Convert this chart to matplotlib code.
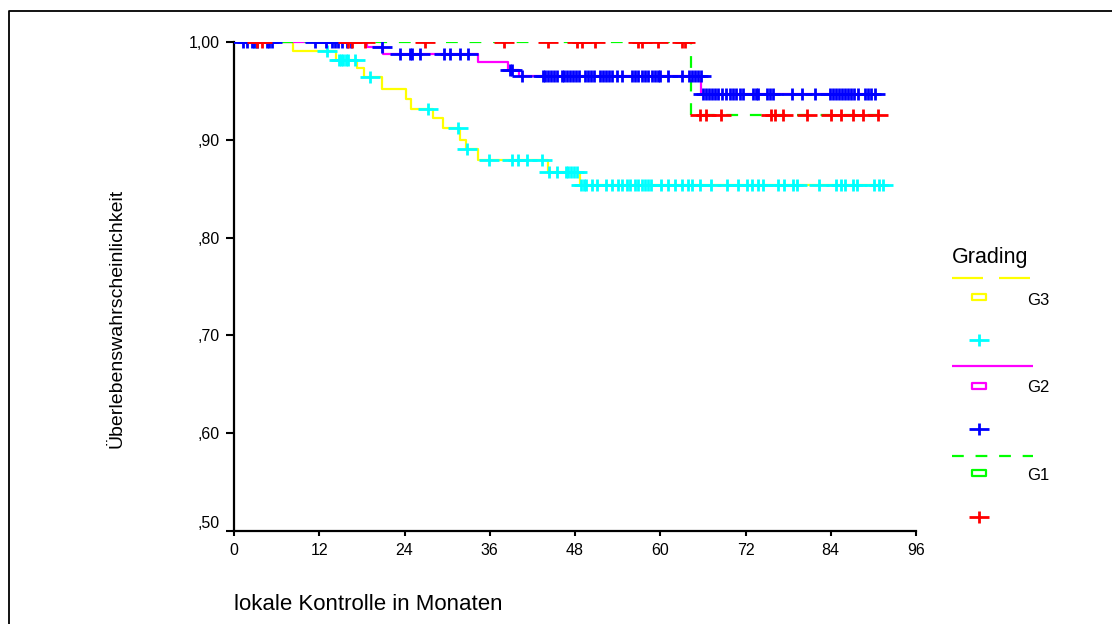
import numpy as np
import matplotlib
matplotlib.use("Agg")
import matplotlib.pyplot as plt
from matplotlib.path import Path
from matplotlib.lines import Line2D
from matplotlib.transforms import ScaledTranslation

plt.rcParams['font.family'] = ['Liberation Sans', 'DejaVu Sans']

W, H, DPI = 1112, 624, 100

# ---- Kaplan-Meier data (months, survival after each event) ----
g3_event_t = [8.3, 14.3, 17.3, 18.3, 20.8, 24.2, 24.9, 28.0, 29.4, 31.8, 32.7, 34.3, 44.2, 48.7]
g3_surv = [0.991, 0.982, 0.973, 0.964, 0.952, 0.942, 0.932, 0.922, 0.912, 0.900, 0.891, 0.879, 0.867, 0.854]
g3_censor_t = [3.0, 13.1, 14.8, 15.1, 15.4, 15.7, 16.0, 17.0, 19.1, 27.3, 31.5, 32.8,
               35.9, 39.1, 40.0, 41.2, 43.3, 44.3, 45.4, 46.7, 47.0, 47.4, 47.8, 48.3,
               48.9, 49.2, 49.5, 50.4, 51.1, 52.3, 53.2, 54.0, 54.6, 55.3, 55.7, 56.4,
               56.9, 57.4, 57.9, 58.3, 58.7, 60.1, 61.1, 62.1, 63.0, 63.9, 64.4, 65.6,
               67.2, 69.4, 70.9, 72.2, 72.9, 73.8, 74.5, 76.6, 77.4, 78.7, 79.2, 82.4,
               84.7, 85.5, 86.0, 87.2, 87.7, 90.1, 90.8, 91.4]

g2_event_t = [18.7, 21.0, 34.4, 38.6, 40.1, 65.8]
g2_surv = [0.995, 0.988, 0.980, 0.971, 0.965, 0.947]
g2_censor_t = [1.3, 1.8, 2.5, 2.8, 3.2, 4.6, 4.9, 5.3, 11.4, 13.0, 13.8, 14.2, 14.6,
               15.2, 15.9, 16.5, 20.8, 23.4, 24.8, 25.0, 26.2, 29.5, 30.4, 31.8, 33.0,
               38.9, 39.1, 40.5, 43.5, 43.8, 44.2, 44.6, 45.0, 45.4, 46.1, 46.5, 46.9,
               47.3, 47.7, 48.1, 48.5, 49.4, 49.8, 50.2, 50.7, 51.5, 51.9, 52.4, 52.8,
               53.2, 53.9, 54.6, 56.0, 56.4, 56.9, 57.4, 57.9, 58.3, 58.8, 59.3, 59.7,
               60.0, 61.1, 63.0, 64.0, 64.4, 64.9, 65.3, 65.7,
               66.0, 66.4, 66.8, 67.3, 67.7, 68.1, 68.7, 69.2, 69.8, 70.2, 70.7, 71.2,
               71.7, 73.1, 73.5, 73.8, 75.0, 75.4, 75.9, 78.5, 79.9, 81.8, 83.9, 84.3,
               84.7, 85.1, 85.6, 86.0, 86.4, 86.9, 87.3, 87.8, 88.8, 89.3, 89.7, 90.2]

g1_event_t = [64.3]
g1_surv = [0.925]
g1_censor_t = [3.2, 3.9, 16.1, 16.6, 18.4, 26.9, 38.0, 44.2, 48.3, 49.0, 50.8, 56.9,
               57.4, 59.7, 63.0, 63.5, 65.6, 66.5, 68.6, 75.6, 76.1, 77.3, 80.6, 84.1,
               85.5, 87.2, 88.6, 90.7]

x_ticks = [0, 12, 24, 36, 48, 60, 72, 84, 96]
y_ticks = [0.5, 0.6, 0.7, 0.8, 0.9, 1.0]
y_tick_labels = [',50', ',60', ',70', ',80', ',90', '1,00']
group_names = ['G3', 'G2', 'G1']

YELLOW, CYAN = '#FFFF00', '#00FFFF'
MAGENTA, BLUE = '#FF00FF', '#0000FF'
GREEN, RED = '#00FF00', '#FF0000'

# censor mark: wide, short cross
CROSS = Path([(-10, 0), (10, 0), (0, -6), (0, 6)],
             [Path.MOVETO, Path.LINETO, Path.MOVETO, Path.LINETO])
BOX = Path([(-1, -0.5), (1, -0.5), (1, 0.5), (-1, 0.5), (-1, -0.5)],
           [Path.MOVETO, Path.LINETO, Path.LINETO, Path.LINETO, Path.CLOSEPOLY])


def km_steps(ev_t, ev_s, t_end):
    t = np.concatenate([[0.0], ev_t, [t_end]])
    s = np.concatenate([[1.0], ev_s, [ev_s[-1]]])
    return t, s


def surv_at(times, ev_t, ev_s):
    idx = np.searchsorted(ev_t, times, side='right')
    s = np.concatenate([[1.0], ev_s])
    return s[idx]


fig = plt.figure(figsize=(W / DPI, H / DPI), dpi=DPI)
ax = fig.add_axes([234 / W, 1 - 531 / H, 682 / W, 489 / H])

lw = 1.6
dash_green = (0, (5.3, 5.3))
MEW = 2.0

groups = [
    (g3_event_t, g3_surv, g3_censor_t, YELLOW, CYAN, '-'),
    (g2_event_t, g2_surv, g2_censor_t, MAGENTA, BLUE, '-'),
    (g1_event_t, g1_surv, g1_censor_t, GREEN, RED, dash_green),
]

for ev_t, ev_s, c_t, lc, mc, ls in groups:
    t, s = km_steps(ev_t, ev_s, max(c_t))
    ax.step(t, s, where='post', color=lc, lw=lw, linestyle=ls, zorder=2,
            solid_capstyle='butt', dash_capstyle='butt')

for ev_t, ev_s, c_t, lc, mc, ls in groups:
    ax.plot(c_t, surv_at(c_t, ev_t, ev_s), linestyle='none', marker=CROSS,
            markersize=14.4, markeredgewidth=MEW, color=mc, zorder=3)

ax.set_xlim(0, 96)
ax.set_ylim(0.5, 1.0)
ax.set_xticks(x_ticks)
ax.set_yticks(y_ticks)
ax.set_yticklabels(y_tick_labels)
for sp in ['top', 'right']:
    ax.spines[sp].set_visible(False)
for sp in ['left', 'bottom']:
    ax.spines[sp].set_linewidth(1.6)
    ax.spines[sp].set_color('black')
ax.tick_params(axis='y', length=5.8, width=1.5, pad=4.5, labelsize=11.5)
ax.tick_params(axis='x', length=3.6, width=1.5, pad=5, labelsize=11.5)
# lowest label is lifted clear of the x axis
lab50 = ax.get_yticklabels()[0]
lab50.set_transform(lab50.get_transform() + ScaledTranslation(0, 9 / DPI, fig.dpi_scale_trans))

fig.text(117 / W, 1 - 318 / H, 'Überlebenswahrscheinlichkeit', rotation=90,
         ha='center', va='center', fontsize=14)
fig.text(234 / W, 1 - 604 / H, 'lokale Kontrolle in Monaten',
         ha='left', va='center', fontsize=16)


# ---- legend ----
def px(x, y):
    return x / W, 1 - y / H


def fig_line(xs, ys, **kw):
    fx = [x / W for x in xs]
    fy = [1 - y / H for y in ys]
    fig.add_artist(Line2D(fx, fy, transform=fig.transFigure, **kw))


fig.text(*px(952, 258), 'Grading', ha='left', va='center', fontsize=15.5)

fig_line([951.7, 983.3], [278.3, 278.3], color=YELLOW, lw=lw, solid_capstyle='butt')
fig_line([999.3, 1030], [278.3, 278.3], color=YELLOW, lw=lw, solid_capstyle='butt')
fig_line([979.3], [296.7], color=YELLOW, marker=BOX, markersize=10, mew=1.6, mfc='none', ls='none')
fig.text(*px(1027, 300), group_names[0], ha='left', va='center', fontsize=12)
fig_line([979.3], [340], color=CYAN, marker=CROSS, markersize=14.4, mew=MEW, ls='none')

fig_line([951.7, 1033.3], [366, 366], color=MAGENTA, lw=lw, solid_capstyle='butt')
fig_line([979.3], [385.7], color=MAGENTA, marker=BOX, markersize=10, mew=1.6, mfc='none', ls='none')
fig.text(*px(1027, 388), group_names[1], ha='left', va='center', fontsize=12)
fig_line([979.3], [429.3], color=BLUE, marker=CROSS, markersize=14.4, mew=MEW, ls='none')

fig_line([951.7, 1033.3], [455.7, 455.7], color=GREEN, lw=lw, linestyle=dash_green,
         dash_capstyle='butt')
fig_line([979.3], [473.3], color=GREEN, marker=BOX, markersize=10, mew=1.6, mfc='none', ls='none')
fig.text(*px(1027, 476), group_names[2], ha='left', va='center', fontsize=12)
fig_line([979.3], [517], color=RED, marker=CROSS, markersize=14.4, mew=MEW, ls='none')

# outer chart frame (left and top edges)
fig_line([8.8, 8.8, W], [H, 10.5, 10.5], color='black', lw=1.3)

fig.savefig('out.png', dpi=DPI)
